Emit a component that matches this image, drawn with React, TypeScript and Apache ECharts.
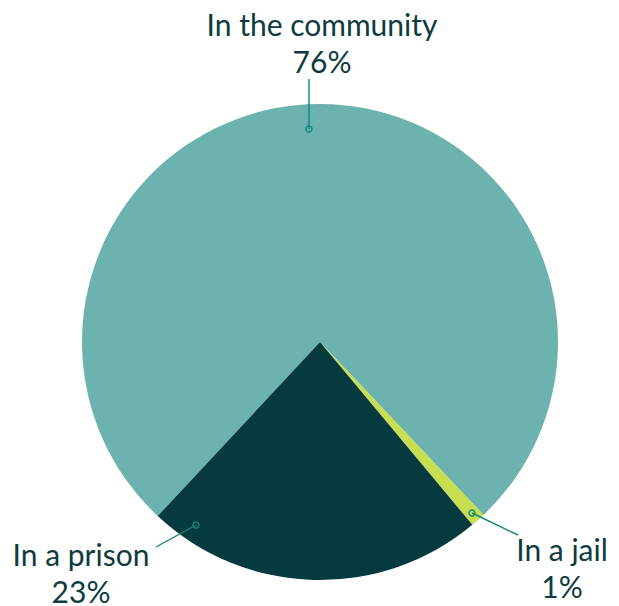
import React, { useEffect, useRef } from "react";
import * as echarts from "echarts";

const categories = ["In the community", "In a jail", "In a prison"];
const values = [76, 1, 23];
const colors = ["#6cb3af", "#c6de4f", "#053a3f"];

// label layout (block centre and leader-line points), per category
const labelCenters = [
  [322, 42],
  [562, 567],
  [81, 572],
];
const leaderLines = [
  [[309, 129], [309, 79]],
  [[472, 513], [518, 535]],
  [[196, 525], [156, 547]],
];

const TEXT = "#0d3b3f";
const LINE = "#12857f";

export default function App() {
  const ref = useRef<HTMLDivElement>(null);
  useEffect(() => {
    document.body.style.margin = "0";
    const chart = echarts.init(ref.current!, undefined, { renderer: "svg" });
    chart.setOption({
      animation: false,
      backgroundColor: "#ffffff",
      series: [
        {
          type: "pie",
          center: [320, 342],
          radius: 238,
          startAngle: 227,
          clockwise: true,
          avoidLabelOverlap: false,
          emphasis: { disabled: true },
          data: categories.map((c, i) => ({
            name: c,
            value: values[i],
            itemStyle: { color: colors[i] },
          })),
          label: {
            show: true,
            position: "outside",
            formatter: (p: any) => `${p.name}\n${values[p.dataIndex]}%`,
            fontFamily: "Lato",
            fontSize: 30,
            lineHeight: 37,
            color: TEXT,
            align: "center",
          },
          labelLine: { show: false },
          labelLayout: (p: any) => ({
            x: labelCenters[p.dataIndex][0],
            y: labelCenters[p.dataIndex][1],
            align: "center",
            verticalAlign: "middle",
          }),
        },
      ],
      graphic: [
        ...leaderLines.map((pts) => ({
          type: "polyline",
          shape: { points: pts },
          style: { fill: "none", stroke: LINE, lineWidth: 1.4 },
          z: 100,
        })),
        ...leaderLines.map((pts) => ({
          type: "circle",
          shape: { cx: pts[0][0], cy: pts[0][1], r: 3 },
          style: { fill: "none", stroke: LINE, lineWidth: 1.4 },
          z: 101,
        })),
      ],
    });
    return () => chart.dispose();
  }, []);
  return <div ref={ref} style={{ width: 619, height: 606 }} />;
}
